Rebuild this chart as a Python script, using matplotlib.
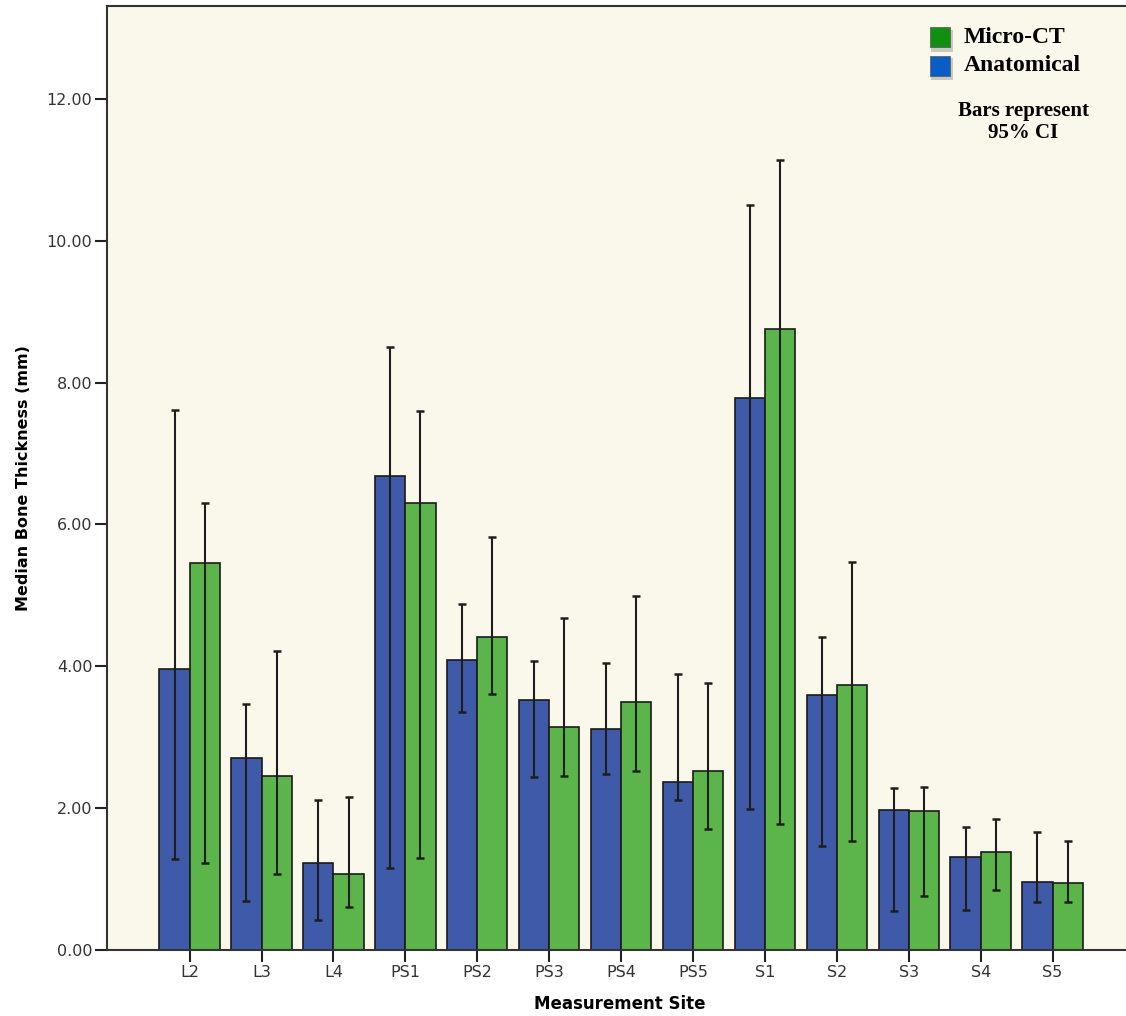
import numpy as np
import matplotlib
matplotlib.use("Agg")
import matplotlib.pyplot as plt
from matplotlib.ticker import FormatStrFormatter

sites = ["L2", "L3", "L4", "PS1", "PS2", "PS3", "PS4", "PS5", "S1", "S2", "S3", "S4", "S5"]

anat_median = [3.96, 2.71, 1.23, 6.68, 4.09, 3.53, 3.11, 2.37, 7.78, 3.59, 1.98, 1.31, 0.96]
anat_low = [1.28, 0.69, 0.42, 1.16, 3.35, 2.44, 2.48, 2.11, 1.99, 1.46, 0.55, 0.57, 0.68]
anat_high = [7.62, 3.47, 2.11, 8.50, 4.88, 4.07, 4.05, 3.89, 10.50, 4.41, 2.28, 1.73, 1.66]

ct_median = [5.45, 2.45, 1.07, 6.30, 4.41, 3.15, 3.49, 2.53, 8.76, 3.74, 1.96, 1.38, 0.95]
ct_low = [1.22, 1.07, 0.61, 1.30, 3.61, 2.45, 2.53, 1.70, 1.78, 1.53, 0.76, 0.84, 0.68]
ct_high = [6.30, 4.22, 2.15, 7.60, 5.83, 4.68, 4.99, 3.76, 11.14, 5.47, 2.30, 1.84, 1.54]

blue = "#3f5aa8"
green = "#5cb54a"
bg = "#faf8eb"

x = np.arange(len(sites))
w = 0.42

fig = plt.figure(figsize=(11.26, 10.16), dpi=100)
ax = fig.add_axes([0.095, 0.065, 0.91, 0.929])
ax.set_facecolor(bg)

anat_err = [np.array(anat_median) - np.array(anat_low), np.array(anat_high) - np.array(anat_median)]
ct_err = [np.array(ct_median) - np.array(ct_low), np.array(ct_high) - np.array(ct_median)]

ekw = dict(ecolor="#1e1e1e", elinewidth=1.5, capsize=3, capthick=1.8)
ax.bar(x - w / 2, anat_median, w, color=blue, edgecolor="#1a1a1a", linewidth=1.2,
       yerr=anat_err, error_kw=ekw)
ax.bar(x + w / 2, ct_median, w, color=green, edgecolor="#1a1a1a", linewidth=1.2,
       yerr=ct_err, error_kw=ekw)

ax.set_xlim(-1.15, 13.1)
ax.set_ylim(0, 13.31)
ax.set_yticks([0, 2, 4, 6, 8, 10, 12])
ax.yaxis.set_major_formatter(FormatStrFormatter("%.2f"))
ax.set_xticks(x)
ax.set_xticklabels(sites)
ax.tick_params(axis="both", length=8.5, width=1.5, color="#222222", labelsize=11.5,
               labelcolor="#333333")
ax.tick_params(axis="x", pad=2)
ax.tick_params(axis="y", pad=2)

for side in ["left", "bottom", "top"]:
    ax.spines[side].set_linewidth(1.5)
    ax.spines[side].set_color("#333333")
ax.spines["right"].set_visible(False)

ax.set_ylabel("Median Bone Thickness (mm)", fontsize=11.5, fontweight="bold", labelpad=11)
ax.set_xlabel("Measurement Site", fontsize=12, fontweight="bold", labelpad=11)

# legend drawn by hand, SPSS style
for yy, c, lab in [(0.967, "#118f11", "Micro-CT"), (0.937, "#0b5cc4", "Anatomical")]:
    ax.scatter([0.8125 + 0.002], [yy - 0.004], s=230, marker="s", color="#999999", alpha=0.5,
               transform=ax.transAxes, zorder=4, linewidths=0)
    ax.scatter([0.8125], [yy], s=210, marker="s", color=c, transform=ax.transAxes, zorder=5,
               edgecolors="#555555", linewidths=0.5)
    ax.text(0.836, yy, lab, transform=ax.transAxes, fontsize=17, fontweight="bold",
            family="Liberation Serif", va="center", ha="left")

ax.text(0.894, 0.877, "Bars represent\n95% CI", transform=ax.transAxes, fontsize=15,
        fontweight="bold", family="Liberation Serif", ha="center", va="center", linespacing=1.1)

fig.savefig("out.png", dpi=100, facecolor="white")
